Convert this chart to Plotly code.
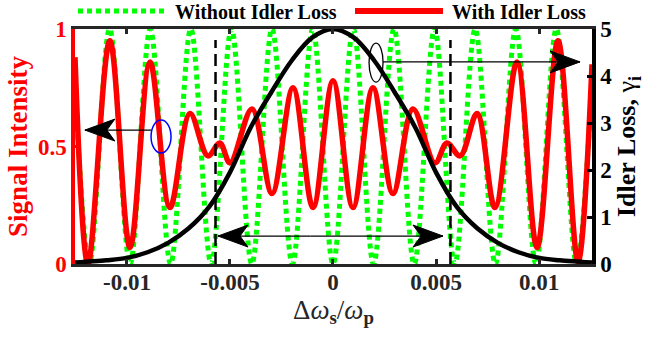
import plotly.graph_objects as go

# ---------------- data ----------------
# Signal intensity without idler loss (green dotted): extrema positions and values
green_x = [-0.01252, -0.01182, -0.01084, -0.00985, -0.00887, -0.00788, -0.00690, -0.00591,
           -0.00493, -0.00394, -0.00296, -0.00197, -0.000985, 0.0, 0.000985, 0.00197,
           0.00296, 0.00394, 0.00493, 0.00591, 0.00690, 0.00788, 0.00887, 0.00985,
           0.01084, 0.01182, 0.01257]
green_y = [0.78, 0.0, 1.0, 0.0, 1.0, 0.0, 1.0, 0.0, 1.0, 0.0, 1.0, 0.0, 1.0, 0.0,
           1.0, 0.0, 1.0, 0.0, 1.0, 0.0, 1.0, 0.0, 1.0, 0.0, 1.0, 0.0, 0.78]

# Signal intensity with idler loss (red solid)
red_x = [-0.01252, -0.01189, -0.01083, -0.00985, -0.00888, -0.00791, -0.00694, -0.00607,
         -0.00549, -0.00500, -0.00393, -0.00296, -0.00194, -0.00097, 0.0, 0.00097,
         0.00194, 0.00291, 0.00388, 0.00495, 0.00553, 0.00617, 0.00699, 0.00786,
         0.00893, 0.00990, 0.01092, 0.01189, 0.01257]
red_y = [0.88, 0.0, 0.95, 0.07, 0.86, 0.24, 0.64, 0.46, 0.515, 0.43, 0.66, 0.30, 0.75,
         0.24, 0.78, 0.24, 0.75, 0.30, 0.66, 0.43, 0.515, 0.46, 0.64, 0.24, 0.86, 0.07,
         0.95, 0.01, 0.85]

# Idler loss gamma_i (black, right axis)
loss_x = [-0.01252, -0.012, -0.011, -0.010, -0.009, -0.008, -0.007, -0.006, -0.005,
          -0.004, -0.003, -0.002, -0.001, 0.0, 0.001, 0.002, 0.003, 0.004, 0.005,
          0.006, 0.007, 0.008, 0.009, 0.010, 0.011, 0.012, 0.01257]
loss_y = [0.03, 0.05, 0.08, 0.13, 0.25, 0.45, 0.76, 1.22, 1.95, 2.90, 3.65, 4.33, 4.82,
          5.0, 4.82, 4.33, 3.65, 2.90, 1.95, 1.22, 0.76, 0.45, 0.25, 0.13, 0.08, 0.05, 0.03]

x_ticks = [-0.01, -0.005, 0, 0.005, 0.01]
x_tick_labels = ["-0.01", "-0.005", "0", "0.005", "0.01"]
y_ticks = [0, 0.5, 1]
y_tick_labels = ["0", "0.5", "1"]
y2_ticks = [0, 1, 2, 3, 4, 5]

band_edges = [-0.0057, 0.0057]

FONT = "Liberation Serif"
AX = "#262626"

fig = go.Figure()
fig.add_trace(go.Scatter(x=green_x, y=green_y, mode="lines", name="Without Idler Loss",
                         line=dict(color="#00ff00", width=5, dash="5px,4px", shape="spline", smoothing=1),
                         showlegend=False))
fig.add_trace(go.Scatter(x=red_x, y=red_y, mode="lines", name="With Idler Loss",
                         line=dict(color="#ff0000", width=5.5, shape="spline", smoothing=1),
                         showlegend=False))
fig.add_trace(go.Scatter(x=loss_x, y=loss_y, mode="lines", yaxis="y2", name="Idler loss",
                         line=dict(color="black", width=4.5, shape="spline", smoothing=1),
                         showlegend=False))

shapes = []
# vertical dashed lines
for xe in band_edges:
    shapes.append(dict(type="line", xref="x", yref="y", x0=xe, x1=xe, y0=0, y1=0.953,
                       line=dict(color="black", width=2.5, dash="12px,6px")))
# ellipses
shapes.append(dict(type="circle", xref="x", yref="y", x0=-0.00883, x1=-0.00786, y0=0.472, y1=0.613,
                   line=dict(color="blue", width=1.5)))
shapes.append(dict(type="circle", xref="x", yref="y", x0=0.00175, x1=0.00243, y0=0.774, y1=0.940,
                   line=dict(color="black", width=1.3)))


def arrow(x_tail, x_tip, y):
    shapes.append(dict(type="line", xref="x", yref="y", x0=x_tail, x1=x_tip, y0=y, y1=y,
                       line=dict(color="black", width=1.3)))
    s = 1 if x_tip < x_tail else -1
    path = "M0,0L{a},11L{b},0L{a},-11Z".format(a=30 * s, b=22 * s)
    shapes.append(dict(type="path", xref="x", yref="y", xsizemode="pixel", ysizemode="pixel",
                       xanchor=x_tip, yanchor=y, path=path, fillcolor="black",
                       line=dict(color="black", width=1)))


arrow(-0.00883, -0.01204, 0.570)
arrow(0.00243, 0.01199, 0.860)
arrow(-0.0011, -0.00558, 0.119)
arrow(-0.0011, 0.00534, 0.119)

# manual legend
shapes.append(dict(type="line", xref="paper", yref="paper", x0=0.0058, x1=0.174, y0=1.0766, y1=1.0766,
                   line=dict(color="#00ff00", width=5, dash="5px,4px")))
shapes.append(dict(type="line", xref="paper", yref="paper", x0=0.5416, x1=0.7118, y0=1.0766, y1=1.0766,
                   line=dict(color="#ff0000", width=6)))

annotations = [
    dict(text="Without Idler Loss", xref="paper", yref="paper", x=0.1896, y=1.072,
         xanchor="left", yanchor="middle", showarrow=False,
         font=dict(family=FONT, size=20, color="black", weight="bold")),
    dict(text="With Idler Loss", xref="paper", yref="paper", x=0.7253, y=1.072,
         xanchor="left", yanchor="middle", showarrow=False,
         font=dict(family=FONT, size=20, color="black", weight="bold")),
]

fig.update_layout(
    width=671, height=341,
    margin=dict(l=75, r=79, t=29, b=77, pad=0),
    paper_bgcolor="white", plot_bgcolor="white",
    shapes=shapes, annotations=annotations,
    xaxis=dict(range=[-0.01252, 0.01257], tickvals=x_ticks, ticktext=x_tick_labels,
               showline=True, linecolor=AX, linewidth=3, mirror="ticks",
               ticks="inside", ticklen=5, tickwidth=3, tickcolor=AX,
               tickfont=dict(family=FONT, size=23, color=AX, weight="bold"),
               ticklabelstandoff=-5,
               showgrid=False, zeroline=False, automargin=False,
               title=dict(text="Δ<i>ω</i><sub><b>s</b></sub>/<i>ω</i><sub><b>p</b></sub>",
                          font=dict(family=FONT, size=27, color=AX), standoff=2)),
    yaxis=dict(range=[0, 1], tickvals=y_ticks, ticktext=y_tick_labels,
               showline=True, linecolor="red", linewidth=3.5,
               ticks="inside", ticklen=5, tickwidth=3, tickcolor="red",
               tickfont=dict(family=FONT, size=23, color="red", weight="bold"),
               showgrid=False, zeroline=False, automargin=False,
               title=dict(text="<b>Signal Intensity</b>",
                          font=dict(family=FONT, size=27, color="red"), standoff=3)),
    yaxis2=dict(range=[0, 5], tickvals=y2_ticks, overlaying="y", side="right",
                showline=True, linecolor="black", linewidth=3.5,
                ticks="inside", ticklen=5, tickwidth=3, tickcolor="black",
                tickfont=dict(family=FONT, size=23, color="black", weight="bold"),
                showgrid=False, zeroline=False, automargin=False,
                title=dict(text="<b>Idler Loss,</b> γ<sub><b>i</b></sub>",
                           font=dict(family=FONT, size=26, color="black"), standoff=6)),
)

fig.write_html("out.html", config={"displayModeBar": False},
               post_script="document.body.style.margin='0px';")
